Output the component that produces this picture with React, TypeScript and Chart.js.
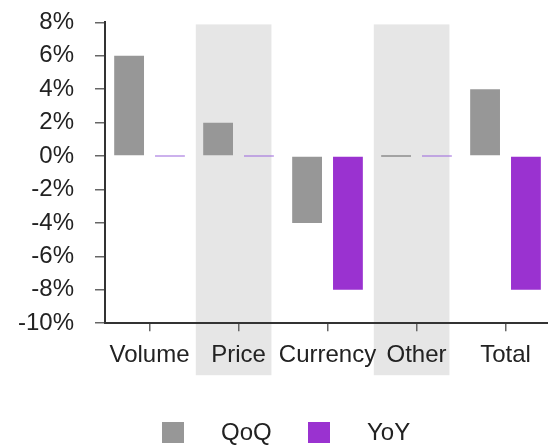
import React, { useEffect, useRef } from "react";
import { Chart, registerables } from "chart.js";

Chart.register(...registerables);

const categories = ["Volume", "Price", "Currency", "Other", "Total"];
const qoqValues = [6, 2, -4, 0, 4];
const yoyValues = [0, 0, -8, 0, -8];
const yTicks = [-10, -8, -6, -4, -2, 0, 2, 4, 6, 8];
const shadedCategories = ["Price", "Other"];
const seriesNames = ["QoQ", "YoY"];

const QOQ_COLOR = "#979797";
const YOY_COLOR = "#9a32d0";
const QOQ_ZERO = "rgba(140,140,140,0.75)";
const YOY_ZERO = "rgba(154,100,220,0.5)";
const BAND_COLOR = "#e6e6e6";
const FONT = "'Liberation Sans', Arial, sans-serif";

const bandPlugin = {
  id: "bands",
  beforeDraw(chart: any) {
    const { ctx, chartArea, scales } = chart;
    const x = scales.x;
    const w = x.width / categories.length;
    ctx.save();
    ctx.fillStyle = BAND_COLOR;
    shadedCategories.forEach((c) => {
      const i = categories.indexOf(c);
      const cx = x.getPixelForValue(i);
      const left = cx - 0.48 * w;
      const right = cx + 0.37 * w;
      const top = chartArea.top + 2;
      const bottom = chartArea.bottom + 52;
      ctx.fillRect(left, top, right - left, bottom - top);
    });
    ctx.restore();
  },
};

export default function App() {
  const ref = useRef<HTMLCanvasElement | null>(null);

  useEffect(() => {
    document.body.style.margin = "0";
    if (!ref.current) return;
    const chart = new Chart(ref.current, {
      type: "bar",
      data: {
        labels: categories,
        datasets: [
          {
            label: seriesNames[0],
            data: qoqValues,
            backgroundColor: (c: any) =>
              c.raw === 0 ? QOQ_ZERO : QOQ_COLOR,
            minBarLength: 2,
            categoryPercentage: 0.918,
            barPercentage: 0.73,
          },
          {
            label: seriesNames[1],
            data: yoyValues,
            backgroundColor: (c: any) =>
              c.raw === 0 ? YOY_ZERO : YOY_COLOR,
            minBarLength: 2,
            categoryPercentage: 0.918,
            barPercentage: 0.73,
          },
        ],
      },
      options: {
        animation: false,
        responsive: false,
        maintainAspectRatio: false,
        layout: { padding: { left: 0, top: 7, right: 2, bottom: 52 } },
        plugins: {
          legend: { display: false },
          tooltip: { enabled: false },
        },
        scales: {
          x: {
            grid: {
              display: true,
              drawOnChartArea: false,
              drawTicks: true,
              tickLength: 8,
              offset: false,
              color: "#666",
              lineWidth: 1.5,
            },
            border: { display: true, color: "#333", width: 2 },
            ticks: {
              color: "#222",
              font: { family: FONT, size: 24 },
              padding: 10,
              maxRotation: 0,
              autoSkip: false,
            },
          },
          y: {
            min: -10,
            max: 8,
            afterBuildTicks: (axis: any) => {
              axis.ticks = yTicks.map((v) => ({ value: v }));
            },
            grid: {
              display: true,
              drawOnChartArea: false,
              drawTicks: true,
              tickLength: 10,
              color: "#666",
              lineWidth: 1.5,
            },
            border: { display: true, color: "#333", width: 2 },
            ticks: {
              color: "#222",
              font: { family: FONT, size: 24 },
              padding: 21,
              autoSkip: false,
              callback: (v: any) => `${v}%`,
            },
          },
        },
      },
      plugins: [bandPlugin],
    });
    return () => chart.destroy();
  }, []);

  const legendItem = (name: string, color: string, boxLeft: number) => (
    <div
      key={name}
      style={{
        position: "absolute",
        left: boxLeft,
        top: 421,
        display: "flex",
        alignItems: "center",
        height: 22,
      }}
    >
      <div style={{ width: 22, height: 21, background: color }} />
      <span
        style={{
          marginLeft: 37,
          font: `24px ${FONT}`,
          lineHeight: "24px",
          color: "#222",
        }}
      >
        {name}
      </span>
    </div>
  );

  return (
    <div
      style={{
        position: "relative",
        width: 548,
        height: 445,
        overflow: "hidden",
        background: "#fff",
      }}
    >
      <canvas
        ref={ref}
        width={555}
        height={445}
        style={{ position: "absolute", left: -3, top: -13, width: 555, height: 445 }}
      />
      {legendItem(seriesNames[0], QOQ_COLOR, 162)}
      {legendItem(seriesNames[1], YOY_COLOR, 308)}
    </div>
  );
}
